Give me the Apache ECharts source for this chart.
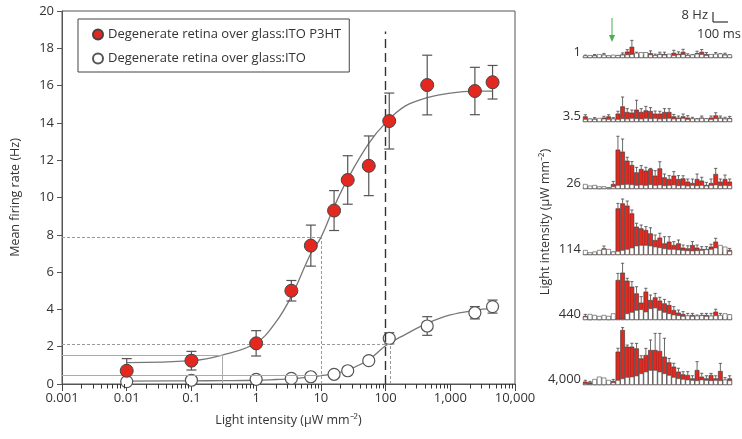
<!DOCTYPE html>
<html>
<head>
<meta charset="utf-8">
<script src="https://cdn.jsdelivr.net/npm/echarts@6/dist/echarts.min.js"></script>
<style>
  html, body { margin: 0; background: #fff; }
  #chart { width: 742px; height: 439px; }
</style>
</head>
<body>
<div id="chart"></div>
<script>
// main panel: mean firing rate vs light intensity
const intensity = [0.01, 0.1, 1, 3.5, 7, 16, 26, 55, 114, 440, 2400, 4500]
const p3htRate = [0.71, 1.25, 2.18, 5.0, 7.42, 9.3, 10.94, 11.7, 14.1, 16.03, 15.71, 16.18]
const p3htErr = [0.65, 0.5, 0.68, 0.55, 1.1, 1.07, 1.3, 1.6, 1.5, 1.6, 1.27, 0.9]
const itoRate = [0.13, 0.2, 0.25, 0.3, 0.39, 0.52, 0.71, 1.25, 2.45, 3.11, 3.82, 4.15]
const itoErr = [0, 0, 0, 0, 0, 0, 0, 0.2, 0.3, 0.5, 0.33, 0.35]

// fitted curves
const fitX = [0.01, 0.1, 0.3, 1, 2, 3.5, 7, 10, 16, 26, 55, 100, 200, 440, 1000, 2400, 4500]
const p3htFit = [1.15, 1.25, 1.55, 2.2, 3.3, 4.7, 7.0, 7.85, 9.5, 11.0, 12.9, 14.0, 14.9, 15.35, 15.6, 15.7, 15.7]
const itoFit = [0.15, 0.17, 0.18, 0.2, 0.24, 0.28, 0.38, 0.45, 0.55, 0.75, 1.3, 2.05, 2.65, 3.25, 3.7, 3.95, 4.05]

// guide lines [x, y]
const p3htHalf = [10, 7.85]
const itoHalf = [120, 2.15]
const p3htBase = [0.3, 1.55]
const itoBase = [10, 0.45]
const threshold = [100, 18.9]

const yTicks = [0, 2, 4, 6, 8, 10, 12, 14, 16, 18, 20]

// right panel: PSTHs (Hz), one row per intensity
const rowLabels = ['1', '3.5', '26', '114', '440', '4,000']
const psthRed = [
  [1.6, 1.1, 2.1, 1.3, 2.7, 1.1, 0.8, 1.3, 2.9, 5.3, 9.3, 3.2, 2.1, 2.7, 4.0, 2.1, 3.5, 3.2, 1.9, 4.3, 3.5, 5.1, 2.4, 1.9, 4.0, 5.1, 3.2, 1.3, 3.2, 2.4, 2.9, 1.9],
  [4.5, 1.9, 2.7, 1.3, 3.5, 4.5, 2.7, 6.7, 12.5, 8.0, 7.5, 9.9, 8.0, 9.3, 8.8, 6.7, 6.7, 8.0, 8.0, 4.5, 3.5, 4.5, 3.5, 2.7, 1.9, 3.5, 1.9, 3.5, 5.3, 3.5, 2.7, 3.2],
  [1.3, 0.8, 1.1, 0.5, 0.8, 0.5, 4.0, 31.5, 29.9, 22.7, 19.2, 13.3, 16.0, 14.7, 16.0, 10.7, 16.5, 9.3, 8.0, 10.7, 8.0, 8.5, 5.9, 4.8, 8.0, 6.7, 3.2, 4.8, 12.0, 5.9, 8.0, 5.9],
  [1.1, 0.8, 1.3, 1.6, 5.3, 2.1, 1.6, 37.3, 41.3, 39.5, 33.3, 22.7, 21.3, 20.0, 17.3, 12.0, 13.9, 9.3, 10.7, 8.0, 9.3, 5.9, 5.3, 8.0, 5.9, 4.8, 4.8, 6.7, 10.7, 2.1, 2.7, 4.0],
  [3.2, 0.5, 0.8, 0.5, 0.8, 0.5, 1.1, 32.0, 37.9, 31.5, 26.7, 21.3, 13.9, 22.7, 16.0, 18.1, 15.5, 13.3, 12.0, 8.0, 5.9, 4.8, 3.2, 4.0, 2.7, 4.0, 4.0, 3.2, 6.7, 3.2, 2.1, 2.1],
  [2.7, 2.1, 0.5, 0.5, 0.5, 1.3, 3.2, 26.7, 44.0, 30.7, 30.7, 29.3, 21.3, 24.0, 28.0, 28.0, 27.2, 22.7, 18.1, 14.7, 10.7, 8.5, 8.0, 5.3, 12.0, 6.7, 5.3, 8.0, 5.3, 11.2, 4.0, 5.3]
]
const psthWhite = [
  [2.1, 2.4, 2.1, 3.2, 2.7, 2.1, 2.7, 2.4, 2.7, 2.9, 3.2, 4.3, 4.8, 4.8, 2.9, 2.4, 3.2, 2.7, 3.5, 2.4, 2.9, 3.2, 2.4, 2.9, 3.5, 3.2, 2.4, 3.2, 3.5, 3.7, 2.7, 2.9],
  [2.4, 2.7, 2.4, 3.2, 2.7, 2.4, 2.7, 2.4, 2.9, 2.7, 3.2, 2.9, 2.7, 3.2, 2.9, 3.2, 2.7, 2.9, 3.2, 2.7, 2.9, 3.2, 2.4, 2.9, 2.7, 3.2, 2.9, 2.4, 2.9, 3.2, 2.7, 2.9],
  [4.0, 2.7, 3.2, 2.1, 2.1, 1.3, 2.1, 3.2, 3.7, 4.0, 3.7, 3.2, 3.5, 3.2, 3.7, 3.2, 3.5, 2.9, 3.2, 3.5, 2.9, 3.2, 2.7, 3.2, 2.9, 3.2, 2.7, 3.2, 3.5, 2.9, 3.2, 2.9],
  [4.0, 2.1, 2.7, 4.0, 4.8, 4.8, 2.7, 3.2, 4.0, 4.8, 5.9, 7.5, 8.0, 8.0, 7.5, 6.7, 6.1, 5.3, 4.8, 4.8, 4.3, 4.0, 3.7, 3.5, 3.7, 4.0, 4.5, 4.8, 5.9, 8.0, 6.7, 3.2],
  [2.7, 4.8, 4.0, 3.2, 4.0, 3.2, 5.3, 1.0, 1.0, 5.3, 6.4, 8.0, 8.5, 6.7, 9.3, 9.9, 8.0, 6.4, 5.3, 4.3, 3.7, 3.2, 3.7, 3.2, 3.5, 3.7, 3.2, 3.5, 3.7, 4.0, 5.3, 4.5],
  [1.3, 1.1, 4.8, 6.7, 5.9, 4.0, 2.1, 4.0, 5.3, 6.4, 6.7, 7.5, 9.3, 10.7, 12.0, 12.0, 10.7, 9.3, 8.0, 6.4, 5.3, 4.8, 4.3, 4.0, 3.7, 4.3, 4.0, 3.7, 4.0, 3.7, 4.3, 3.7]
]
const psthErr = [
  [0.8, 0.5, 0.8, 0.5, 1.1, 0.5, 0.5, 0.8, 1.3, 1.6, 5.3, 1.6, 0.8, 1.1, 1.9, 1.1, 1.3, 1.6, 0.8, 2.1, 1.6, 2.1, 1.1, 0.8, 1.6, 1.9, 1.3, 0.8, 1.3, 1.1, 1.1, 0.8],
  [1.3, 0.5, 0.8, 0.5, 1.1, 1.3, 0.8, 1.9, 7.5, 2.7, 2.1, 7.5, 2.7, 3.2, 2.7, 2.1, 1.9, 2.7, 2.7, 1.6, 1.3, 1.9, 1.6, 1.1, 0.8, 1.3, 0.8, 1.3, 2.1, 1.3, 1.1, 1.3],
  [1.3, 0.5, 0.8, 0.5, 0.5, 0.5, 2.1, 10.7, 10.1, 2.7, 2.7, 4.0, 2.7, 2.7, 0.5, 4.0, 5.3, 2.7, 2.7, 3.2, 2.7, 2.1, 2.1, 3.2, 4.0, 2.7, 2.1, 3.2, 4.5, 2.1, 3.2, 2.1],
  [0.8, 0.5, 0.8, 1.1, 1.9, 1.1, 0.8, 4.0, 3.5, 3.7, 2.7, 2.7, 2.7, 2.7, 4.5, 4.0, 3.5, 5.3, 4.0, 2.7, 2.7, 2.1, 2.1, 2.7, 2.1, 1.9, 1.9, 1.9, 2.7, 1.9, 2.1, 1.3],
  [1.3, 0.5, 0.5, 0.5, 0.5, 0.5, 1.6, 5.3, 7.5, 1.9, 4.0, 5.3, 4.8, 2.7, 4.0, 3.2, 2.7, 3.2, 2.7, 2.7, 2.1, 1.9, 2.1, 1.3, 1.3, 1.3, 1.3, 2.1, 1.9, 2.1, 1.9, 1.9],
  [1.1, 0.8, 0.5, 0.5, 0.5, 0.8, 1.3, 2.7, 1.9, 1.3, 2.7, 4.0, 2.1, 5.3, 8.0, 13.3, 14.1, 14.7, 3.2, 2.7, 2.7, 2.1, 2.7, 2.1, 6.7, 2.7, 2.1, 1.3, 2.1, 6.1, 1.9, 2.1]
]
const bins = psthRed[0].map((v, i) => String(i))

const FONT = 'Open Sans'
const TXT = '#333'
const RED = '#e2281f'

const chart = echarts.init(document.getElementById('chart'))

function errorBar(params, api) {
  const x = api.value(0), y = api.value(1), e = api.value(2)
  if (!e) return { type: 'group', children: [] }
  const hi = api.coord([x, y + e]), lo = api.coord([x, y - e])
  const w = 5
  const style = { stroke: '#555', lineWidth: 1.2 }
  return {
    type: 'group',
    children: [
      { type: 'line', shape: { x1: hi[0], y1: hi[1], x2: lo[0], y2: lo[1] }, style },
      { type: 'line', shape: { x1: hi[0] - w, y1: hi[1], x2: hi[0] + w, y2: hi[1] }, style },
      { type: 'line', shape: { x1: lo[0] - w, y1: lo[1], x2: lo[0] + w, y2: lo[1] }, style }
    ]
  }
}

function psthError(params, api) {
  const i = api.value(0), y = api.value(1), e = api.value(2)
  const a = api.coord([i, y]), b = api.coord([i, y + e])
  const style = { stroke: '#444', lineWidth: 0.8 }
  return {
    type: 'group',
    children: [
      { type: 'line', shape: { x1: a[0], y1: a[1], x2: b[0], y2: b[1] }, style },
      { type: 'line', shape: { x1: b[0] - 1.6, y1: b[1], x2: b[0] + 1.6, y2: b[1] }, style }
    ]
  }
}

const baselines = [58, 122, 189, 255, 320, 385]

const grids = [{ left: 62, top: 11, width: 453, height: 373, show: true, borderColor: '#555', borderWidth: 1 }]
const xAxes = [{
  type: 'log', gridIndex: 0, min: 0.001, max: 10000, splitNumber: 7,
  name: 'Light intensity (μW mm⁻²)', nameLocation: 'middle', nameGap: 30,
  nameTextStyle: { fontFamily: FONT, fontSize: 12.5, color: TXT },
  axisLine: { lineStyle: { color: '#555' } },
  axisTick: { length: 7, lineStyle: { color: '#444' } },
  splitLine: { show: false },
  axisLabel: {
    fontFamily: FONT, fontSize: 13, color: TXT, margin: 8,
    formatter: v => v >= 1 ? Math.round(v).toLocaleString('en-US') : String(parseFloat(v.toPrecision(1)))
  }
}]
const yAxes = [{
  type: 'value', gridIndex: 0, min: yTicks[0], max: yTicks[yTicks.length - 1], interval: 2,
  name: 'Mean firing rate (Hz)', nameLocation: 'middle', nameGap: 40, nameRotate: 90,
  nameTextStyle: { fontFamily: FONT, fontSize: 12.5, color: TXT },
  axisLine: { show: true, lineStyle: { color: '#555' } },
  axisTick: { show: true, length: 5, lineStyle: { color: '#555' } },
  splitLine: { show: false },
  axisLabel: { fontFamily: FONT, fontSize: 13, color: TXT, margin: 8 }
}]

const series = [
  {
    type: 'line', name: 'fitP3HT', xAxisIndex: 0, yAxisIndex: 0,
    data: fitX.map((x, i) => [x, p3htFit[i]]), smooth: 0.4, symbol: 'none',
    lineStyle: { color: '#777', width: 1.3 }, z: 2, silent: true,
    markLine: {
      symbol: 'none', silent: true, label: { show: false },
      data: [
        [{ coord: [0.001, p3htHalf[1]], lineStyle: { type: [3, 2], color: '#999', width: 1 } }, { coord: p3htHalf }],
        [{ coord: [p3htHalf[0], 0], lineStyle: { type: [3, 2], color: '#999', width: 1 } }, { coord: p3htHalf }],
        [{ coord: [0.001, itoHalf[1]], lineStyle: { type: [3, 2], color: '#999', width: 1 } }, { coord: itoHalf }],
        [{ coord: [itoHalf[0], 0], lineStyle: { type: [3, 2], color: '#999', width: 1 } }, { coord: itoHalf }],
        [{ coord: [0.001, p3htBase[1]], lineStyle: { type: 'solid', color: '#aaa', width: 1 } }, { coord: p3htBase }],
        [{ coord: [p3htBase[0], 0], lineStyle: { type: 'solid', color: '#aaa', width: 1 } }, { coord: p3htBase }],
        [{ coord: [0.001, itoBase[1]], lineStyle: { type: 'solid', color: '#aaa', width: 1 } }, { coord: itoBase }],
        [{ coord: [threshold[0], 0], lineStyle: { type: [9, 5], color: '#333', width: 1.4 } }, { coord: threshold }]
      ]
    }
  },
  {
    type: 'line', name: 'fitITO', xAxisIndex: 0, yAxisIndex: 0,
    data: fitX.map((x, i) => [x, itoFit[i]]), smooth: 0.4, symbol: 'none',
    lineStyle: { color: '#777', width: 1.3 }, z: 2, silent: true
  },
  {
    type: 'custom', name: 'errP3HT', xAxisIndex: 0, yAxisIndex: 0, renderItem: errorBar,
    data: intensity.map((x, i) => [x, p3htRate[i], p3htErr[i]]), encode: { x: 0, y: 1 }, z: 3
  },
  {
    type: 'custom', name: 'errITO', xAxisIndex: 0, yAxisIndex: 0, renderItem: errorBar,
    data: intensity.map((x, i) => [x, itoRate[i], itoErr[i]]), encode: { x: 0, y: 1 }, z: 3
  },
  {
    type: 'scatter', name: 'Degenerate retina over glass:ITO P3HT', xAxisIndex: 0, yAxisIndex: 0,
    data: intensity.map((x, i) => [x, p3htRate[i]]), symbolSize: 13,
    itemStyle: { color: RED, borderColor: '#444', borderWidth: 1, opacity: 1 }, z: 5
  },
  {
    type: 'scatter', name: 'Degenerate retina over glass:ITO', xAxisIndex: 0, yAxisIndex: 0,
    data: intensity.map((x, i) => [x, itoRate[i]]), symbolSize: 12,
    itemStyle: { color: '#fff', borderColor: '#555', borderWidth: 1.2, opacity: 1 }, z: 4
  }
]

psthRed.forEach((red, r) => {
  const g = r + 1
  grids.push({ left: 583, width: 149, top: baselines[r] - 60, height: 60 })
  xAxes.push({ type: 'category', gridIndex: g, data: bins, show: false })
  yAxes.push({ type: 'value', gridIndex: g, min: 0, max: 48, show: false })
  series.push({
    type: 'bar', xAxisIndex: g, yAxisIndex: g, data: red, barCategoryGap: '0%', barGap: '-100%',
    itemStyle: { color: RED, borderColor: '#333', borderWidth: 0.6 }, silent: true
  })
  series.push({
    type: 'bar', xAxisIndex: g, yAxisIndex: g, data: psthWhite[r], barCategoryGap: '0%', barGap: '-100%',
    itemStyle: { color: '#fff', borderColor: '#444', borderWidth: 0.6 }, silent: true
  })
  series.push({
    type: 'custom', xAxisIndex: g, yAxisIndex: g, renderItem: psthError, silent: true,
    data: red.map((v, i) => [i, v, psthErr[r][i]]), encode: { x: 0, y: 1 }
  })
})

const graphics = rowLabels.map((t, r) => ({
  type: 'text', x: 581, y: baselines[r] - 6,
  style: { text: t, font: '13px "Open Sans"', fill: TXT, align: 'right', verticalAlign: 'middle' }
}))
graphics.push(
  {
    type: 'text', x: 545, y: 222, rotation: Math.PI / 2,
    style: { text: 'Light intensity (μW mm⁻²)', font: '12.5px "Open Sans"', fill: TXT, align: 'center', verticalAlign: 'middle' }
  },
  // scale bar
  { type: 'line', shape: { x1: 713, y1: 12, x2: 713, y2: 22 }, style: { stroke: '#333', lineWidth: 1.2 } },
  { type: 'line', shape: { x1: 713, y1: 22, x2: 728, y2: 22 }, style: { stroke: '#333', lineWidth: 1.2 } },
  { type: 'text', x: 708, y: 15, style: { text: '8 Hz', font: '13px "Open Sans"', fill: TXT, align: 'right', verticalAlign: 'middle' } },
  { type: 'text', x: 697, y: 34, style: { text: '100 ms', font: '13px "Open Sans"', fill: TXT, align: 'left', verticalAlign: 'middle' } },
  // stimulus onset arrow
  { type: 'line', shape: { x1: 612, y1: 18, x2: 612, y2: 39 }, style: { stroke: '#4cae4c', lineWidth: 1 } },
  { type: 'polygon', shape: { points: [[609, 35], [615, 35], [612, 42]] }, style: { fill: '#4cae4c' } }
)

chart.setOption({
  animation: false,
  textStyle: { fontFamily: FONT },
  grid: grids,
  xAxis: xAxes,
  yAxis: yAxes,
  legend: {
    left: 78, top: 19, orient: 'vertical',
    data: ['Degenerate retina over glass:ITO P3HT', 'Degenerate retina over glass:ITO'],
    borderColor: '#444', borderWidth: 1, borderRadius: 0,
    padding: [9, 8, 7, 14], itemGap: 11, itemWidth: 10, itemHeight: 10,
    icon: 'circle',
    textStyle: { fontFamily: FONT, fontSize: 13, color: TXT }
  },
  series: series
})

// log minor ticks (2..9 per decade), placed through the x axis scale
for (let k = -3; k < 4; k++) {
  for (let m = 2; m < 10; m++) {
    const p = chart.convertToPixel({ xAxisIndex: 0, yAxisIndex: 0 }, [m * Math.pow(10, k), 0])
    const x = Math.round(p[0]) + 0.5
    graphics.push({ type: 'line', silent: true, z: 50, shape: { x1: x, y1: p[1], x2: x, y2: p[1] + 4.5 }, style: { stroke: '#333', lineWidth: 1 } })
  }
}
chart.setOption({ graphic: graphics })
</script>
</body>
</html>
